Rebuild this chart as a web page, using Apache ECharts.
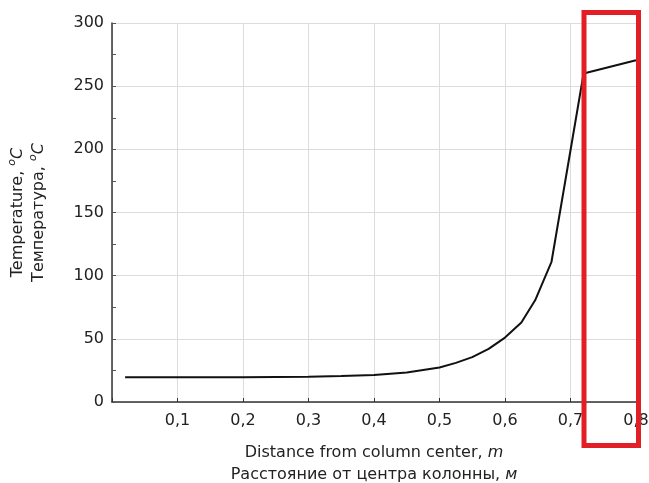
<!DOCTYPE html>
<html>
<head>
<meta charset="utf-8">
<script src="https://cdn.jsdelivr.net/npm/echarts@6/dist/echarts.min.js"></script>
<style>
  html, body { margin: 0; padding: 0; background: #fff; }
  #chart { width: 649px; height: 483px; }
</style>
</head>
<body>
<div id="chart"></div>
<script>
// distance from column center, m
var distance = [0.02, 0.1, 0.2, 0.3, 0.35, 0.4, 0.45, 0.5, 0.525, 0.55, 0.575, 0.6, 0.625, 0.646, 0.671, 0.72, 0.8];
// temperature, C
var temperature = [19.5, 19.5, 19.6, 20, 20.5, 21.3, 23.3, 27.3, 31, 35.5, 42, 51, 63, 80.5, 111, 260, 270.5];

var xTicks = [0.1, 0.2, 0.3, 0.4, 0.5, 0.6, 0.7, 0.8];
var yTicks = [0, 50, 100, 150, 200, 250, 300];

var font = '"DejaVu Sans", sans-serif';

var points = [];
for (var i = 0; i < distance.length; i++) {
  points.push([distance[i], temperature[i]]);
}

var chart = echarts.init(document.getElementById('chart'));

var option = {
  animation: false,
  backgroundColor: '#fff',
  grid: {
    left: 112,
    right: 13,
    top: 23,
    bottom: 81,
    containLabel: false,
    outerBoundsMode: 'none'
  },
  xAxis: {
    type: 'value',
    min: 0,
    max: 0.8,
    interval: 0.1,
    name: '{t|Distance from column center, }{i|m}\n{t|Расстояние от центра колонны, }{i|м}',
    nameLocation: 'middle',
    nameGap: 40,
    nameTextStyle: {
      rich: {
        t: { fontFamily: font, fontSize: 16, color: '#222', lineHeight: 22 },
        i: { fontFamily: font, fontSize: 16, color: '#222', fontStyle: 'italic', lineHeight: 22 }
      }
    },
    axisLine: { lineStyle: { color: '#333', width: 1.5 } },
    axisTick: { inside: true, length: 4, lineStyle: { color: '#333' } },
    axisLabel: {
      fontFamily: font,
      fontSize: 16,
      color: '#222',
      margin: 11,
      formatter: function (v) {
        var hit = xTicks.some(function (t) { return Math.abs(t - v) < 1e-6; });
        return hit ? v.toFixed(1).replace('.', ',') : '';
      }
    },
    splitLine: { show: true, lineStyle: { color: '#dcdcdc', width: 1 } }
  },
  yAxis: {
    type: 'value',
    min: 0,
    max: 300,
    interval: 50,
    name: '{t|Temperature, }{s|o}{i|C}\n{t|Температура, }{s|o}{i|C}',
    nameLocation: 'middle',
    nameGap: 63,
    nameTextStyle: {
      rich: {
        t: { fontFamily: font, fontSize: 16, color: '#222', lineHeight: 21 },
        s: { fontFamily: font, fontSize: 11, color: '#222', fontStyle: 'italic', verticalAlign: 'top', lineHeight: 21, padding: [0, 0, 8, 0] },
        i: { fontFamily: font, fontSize: 16, color: '#222', fontStyle: 'italic', lineHeight: 21 }
      }
    },
    axisLine: { show: true, lineStyle: { color: '#333', width: 1.5 } },
    axisTick: { show: true, inside: true, length: 4, lineStyle: { color: '#555' } },
    minorTick: { show: true, splitNumber: 2, length: 4, lineStyle: { color: '#555' } },
    axisLabel: {
      fontFamily: font,
      fontSize: 16,
      color: '#222',
      margin: 8,
      formatter: function (v) {
        return yTicks.indexOf(v) >= 0 ? String(v) : '';
      }
    },
    splitLine: { show: true, lineStyle: { color: '#dcdcdc', width: 1 } }
  },
  series: [{
    type: 'line',
    data: points,
    showSymbol: false,
    smooth: false,
    lineStyle: { color: '#111', width: 2 }
  }],
  graphic: [{
    type: 'rect',
    shape: { x: 584, y: 12.5, width: 54.5, height: 433 },
    style: { fill: 'none', stroke: '#e21e26', lineWidth: 5 },
    z: 100
  }]
};

chart.setOption(option);
</script>
</body>
</html>
